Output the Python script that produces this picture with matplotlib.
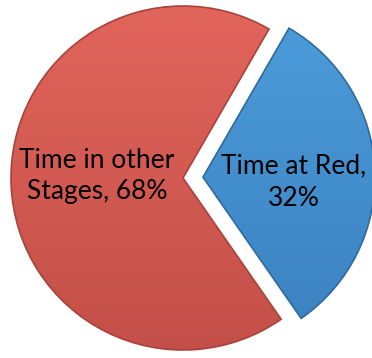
import numpy as np
import matplotlib.pyplot as plt
from matplotlib.colors import LinearSegmentedColormap

labels = ["Time in other\nStages, {}%", "Time at Red,\n{}%"]
shares = [68, 32]
tops = ["#e2655b", "#4d9ddb"]
bottoms = ["#c24f48", "#3a80bf"]
edges = ["#a8423c", "#2f6a9e"]

W, H = 372, 358
fig = plt.figure(figsize=(W / 100, H / 100), dpi=100)
ax = fig.add_axes([0, 0, 1, 1])

# explode is in data units here (pixels)
wedges, _ = ax.pie(shares, center=(183, 180), radius=172, startangle=60,
                   explode=[0, 20], frame=True)
ax.set_xlim(0, W)
ax.set_ylim(0, H)
ax.set_aspect("equal")
ax.axis("off")

# vertical gradient for each slice, clipped to the wedge outline
grad = np.linspace(0, 1, 256).reshape(-1, 1)
for w, top, bot, ec in zip(wedges, tops, bottoms, edges):
    w.set_facecolor("none")
    w.set_edgecolor(ec)
    w.set_linewidth(1.2)
    cmap = LinearSegmentedColormap.from_list("g", [bot, top])
    im = ax.imshow(grad, cmap=cmap, extent=(0, W, 0, H), origin="lower",
                   aspect="auto", zorder=0)
    im.set_clip_path(w)

font = ["Lato", "DejaVu Sans"]
pos = [(97, 182), (294, 176)]
for lab, val, (x, y) in zip(labels, shares, pos):
    ax.text(x, y, lab.format(val), ha="center", va="center", fontsize=19,
            family=font, linespacing=1.35, color="black")

fig.savefig("out.png", dpi=100)
